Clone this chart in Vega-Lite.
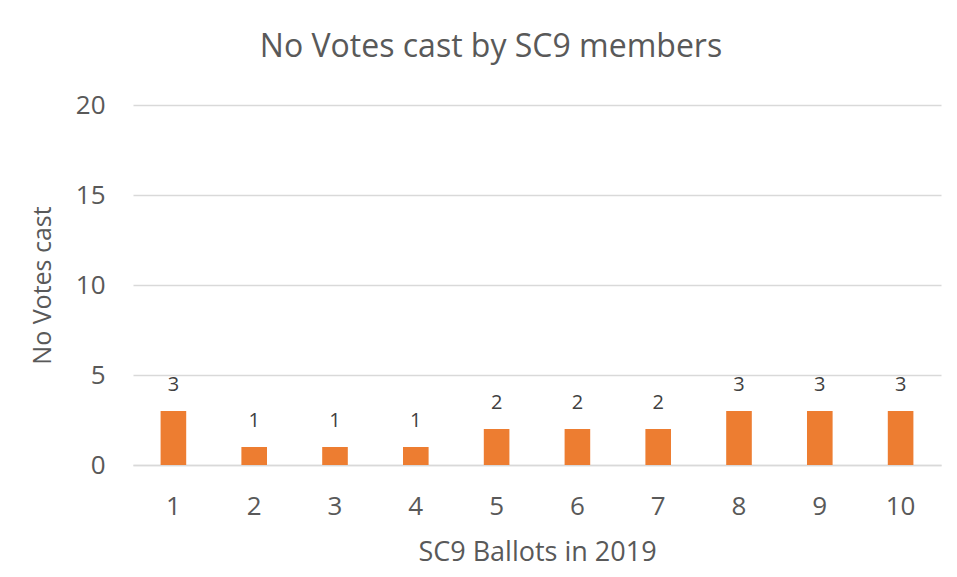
{
  "$schema": "https://vega.github.io/schema/vega-lite/v6.json",
  "width": 808,
  "height": 360,
  "autosize": "none",
  "padding": {"left": 133, "top": 105, "right": 16, "bottom": 112},
  "background": "white",
  "config": {"view": {"stroke": null}, "font": "Open Sans"},
  "title": {
    "text": "No Votes cast by SC9 members",
    "fontSize": 32,
    "fontWeight": "normal",
    "color": "#595959",
    "anchor": "middle",
    "dx": -46,
    "offset": 28
  },
  "data": {
    "values": [
      {"ballot": "1", "votes": 3},
      {"ballot": "2", "votes": 1},
      {"ballot": "3", "votes": 1},
      {"ballot": "4", "votes": 1},
      {"ballot": "5", "votes": 2},
      {"ballot": "6", "votes": 2},
      {"ballot": "7", "votes": 2},
      {"ballot": "8", "votes": 3},
      {"ballot": "9", "votes": 3},
      {"ballot": "10", "votes": 3}
    ]
  },
  "encoding": {
    "x": {
      "field": "ballot",
      "type": "ordinal",
      "sort": null,
      "title": "SC9 Ballots in 2019",
      "scale": {"paddingInner": 0.683, "paddingOuter": 0.3415},
      "axis": {
        "labelAngle": 0,
        "labelFontSize": 26,
        "labelColor": "#595959",
        "labelPadding": 28,
        "ticks": false,
        "domainColor": "#d9d9d9",
        "domainWidth": 1.5,
        "titleFontSize": 27,
        "titleFontWeight": "normal",
        "titleColor": "#595959",
        "titlePadding": 20
      }
    },
    "y": {
      "field": "votes",
      "type": "quantitative",
      "title": "No Votes cast",
      "scale": {"domain": [0, 20]},
      "axis": {
        "values": [0, 5, 10, 15, 20],
        "labelFontSize": 26,
        "labelColor": "#595959",
        "labelPadding": 28,
        "ticks": false,
        "domain": false,
        "gridColor": "#d9d9d9",
        "gridWidth": 1.5,
        "titleFontSize": 25,
        "titleFontWeight": "normal",
        "titleColor": "#595959",
        "titlePadding": 20
      }
    }
  },
  "layer": [
    {"mark": {"type": "bar", "color": "#ED7D31"}},
    {
      "mark": {"type": "text", "baseline": "bottom", "dy": -16, "fontSize": 20, "color": "#404040"},
      "encoding": {"text": {"field": "votes", "type": "quantitative"}}
    }
  ]
}
